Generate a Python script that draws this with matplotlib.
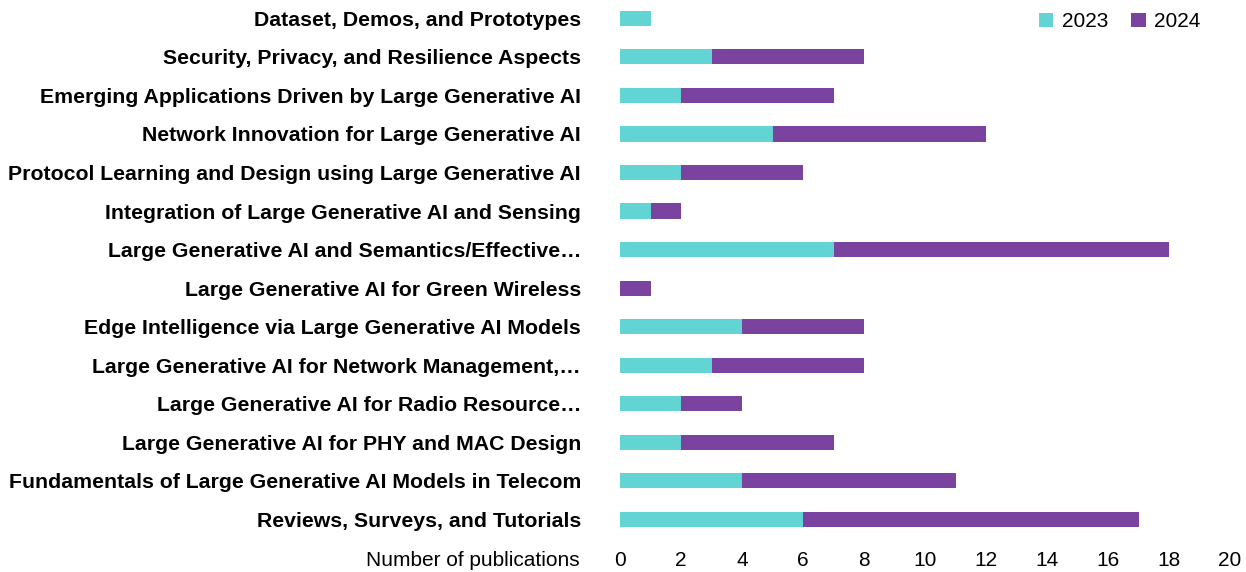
import matplotlib
matplotlib.use("Agg")
import matplotlib.pyplot as plt
import numpy as np

plt.rcParams['font.family'] = ['Liberation Sans', 'DejaVu Sans']

categories = [
    "Dataset, Demos, and Prototypes",
    "Security, Privacy, and Resilience Aspects",
    "Emerging Applications Driven by Large Generative AI",
    "Network Innovation for Large Generative AI",
    "Protocol Learning and Design using Large Generative AI",
    "Integration of Large Generative AI and Sensing",
    "Large Generative AI and Semantics/Effective\u2026",
    "Large Generative AI for Green Wireless",
    "Edge Intelligence via Large Generative AI Models",
    "Large Generative AI for Network Management,\u2026",
    "Large Generative AI for Radio Resource\u2026",
    "Large Generative AI for PHY and MAC Design",
    "Fundamentals of Large Generative AI Models in Telecom",
    "Reviews, Surveys, and Tutorials",
]
vals_2023 = [1, 3, 2, 5, 2, 1, 7, 0, 4, 3, 2, 2, 4, 6]
vals_2024 = [0, 5, 5, 7, 4, 1, 11, 1, 4, 5, 2, 5, 7, 11]
xticks = [0, 2, 4, 6, 8, 10, 12, 14, 16, 18, 20]

c2023 = "#63D4D4"
c2024 = "#7A43A0"

fig = plt.figure(figsize=(12.46, 5.72), dpi=100)
ax = fig.add_axes([620/1246, 1 - 538.3/572, 610/1246, 538.3/572])

n = len(categories)
y = np.arange(n)[::-1]
h = 0.39
ax.barh(y, vals_2023, height=h, color=c2023, label="2023")
ax.barh(y, vals_2024, left=vals_2023, height=h, color=c2024, label="2024")

ax.set_xlim(0, 20)
ax.set_ylim(-0.5, 13.48)
ax.set_xticks(xticks)
ax.set_xticklabels([str(t) for t in xticks], fontsize=15)
ax.set_yticks(y)
ax.set_yticklabels(categories, fontsize=15.3, fontweight='bold')
ax.tick_params(axis='y', length=0, pad=28)
ax.tick_params(axis='x', length=0, pad=9.5)
for s in ax.spines.values():
    s.set_visible(False)

fig.text(580/1246, 1 - 561/572, "Number of publications", ha='right', va='center', fontsize=15)

leg = ax.legend(loc='upper right', bbox_to_anchor=(0.982, 1.012), ncol=2, frameon=False,
                fontsize=15, handlelength=0.7, handleheight=0.7, handletextpad=0.4,
                columnspacing=1.1)

fig.savefig("out.png", dpi=100)
